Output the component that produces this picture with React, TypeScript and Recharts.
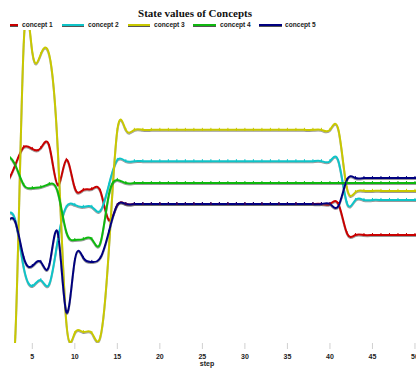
import React from 'react';
import { LineChart, Line, XAxis, YAxis } from 'recharts';

const steps = [1,2,3,4,5,6,7,8,9,10,11,12,13,14,15,16,17,18,19,20,21,22,23,24,25,26,27,28,29,30,31,32,33,34,35,36,37,38,39,40,41,42,43,44,45,46,47,48,49,50,51];

const concept1 = [0.505,0.514,0.569,0.626,0.620,0.623,0.629,0.505,0.585,0.495,0.489,0.492,0.486,0.393,0.441,
  0.444,0.444,0.444,0.444,0.444,0.444,0.444,0.444,0.444,0.444,0.444,0.444,0.444,0.444,0.444,0.444,0.444,0.444,0.444,0.444,0.444,0.444,0.444,0.444,0.444,0.444,
  0.351,0.345,0.345,0.345,0.345,0.345,0.345,0.345,0.345,0.345];

const concept2 = [0.406,0.412,0.393,0.240,0.182,0.201,0.188,0.329,0.435,0.441,0.435,0.435,0.422,0.505,0.585,
  0.581,0.581,0.581,0.581,0.581,0.581,0.581,0.581,0.581,0.581,0.581,0.581,0.581,0.581,0.581,0.581,0.581,0.581,0.581,0.581,0.581,0.581,0.581,0.581,0.581,0.581,
  0.447,0.457,0.457,0.457,0.457,0.457,0.457,0.457,0.457,0.457];

const concept3 = [0.022,0.022,0.019,0.962,0.930,0.923,0.920,0.617,0.067,0.032,0.035,0.032,0.019,0.297,0.681,
  0.681,0.681,0.681,0.681,0.681,0.681,0.681,0.681,0.681,0.681,0.681,0.681,0.681,0.681,0.681,0.681,0.681,0.681,0.681,0.681,0.681,0.681,0.681,0.681,0.681,0.681,
  0.495,0.482,0.486,0.486,0.486,0.486,0.486,0.486,0.486,0.486];

const concept4 = [0.610,0.601,0.569,0.505,0.495,0.498,0.508,0.482,0.355,0.329,0.332,0.332,0.319,0.473,0.521,
  0.511,0.511,0.511,0.511,0.511,0.511,0.511,0.511,0.511,0.511,0.511,0.511,0.511,0.511,0.511,0.511,0.511,0.511,0.511,0.511,0.511,0.511,0.511,0.511,0.511,0.511,
  0.511,0.511,0.511,0.511,0.511,0.511,0.511,0.511,0.511,0.511];

const concept5 = [0.377,0.387,0.387,0.272,0.246,0.259,0.249,0.351,0.099,0.265,0.272,0.259,0.272,0.355,0.441,
  0.444,0.444,0.444,0.444,0.444,0.444,0.444,0.444,0.444,0.444,0.444,0.444,0.444,0.444,0.444,0.444,0.444,0.444,0.444,0.444,0.444,0.444,0.444,0.444,0.444,
  0.438,0.521,0.527,0.527,0.527,0.527,0.527,0.527,0.527,0.527,0.527];

const xTicks = [5,10,15,20,25,30,35,40,45,50];
const seriesNames = ['concept 1','concept 2','concept 3','concept 4','concept 5'];
const seriesKeys = ['c1','c2','c3','c4','c5'];
const seriesColors = ['#c80000','#10c4c8','#c8c800','#10b810','#000080'];

const data = steps.map((s, i) => ({
  step: s,
  c1: concept1[i],
  c2: concept2[i],
  c3: concept3[i],
  c4: concept4[i],
  c5: concept5[i],
}));

const legendPos = [
  { ix: 10, iw: 8, tx: 22 },
  { ix: 62, iw: 22, tx: 88 },
  { ix: 128, iw: 22, tx: 154 },
  { ix: 193, iw: 23, tx: 220 },
  { ix: 259, iw: 23, tx: 285 },
];

const makeDot = (color: string) => (p: any) => {
  const { cx, cy, index } = p;
  if (cx == null || cy == null) return <g key={'d' + index} />;
  return <line key={'d' + index} x1={cx} x2={cx} y1={cy - 2} y2={cy + 1} stroke={color} strokeWidth={1} />;
};

export default function App() {
  return (
    <div style={{ position: 'absolute', left: 0, top: 0, width: 416, height: 370, overflow: 'hidden', background: '#fff' }}>
      <LineChart width={416} height={370} data={data} margin={{ top: 30, right: 0, bottom: 0, left: 10 }}>
        <defs>
          <filter id="shade" x="-10%" y="-10%" width="120%" height="130%">
            <feDropShadow dx="0" dy="1" stdDeviation="0.3" floodColor="#444" floodOpacity="0.55" />
          </filter>
        </defs>
        <XAxis
          dataKey="step"
          type="number"
          domain={[2.378, 50.12]}
          allowDataOverflow
          ticks={xTicks}
          interval={0}
          axisLine={false}
          tickLine={{ stroke: '#d0d0d0' }}
          tickSize={6}
          tickMargin={5}
          height={27}
          tick={{ fontSize: 7, fontWeight: 700, fill: '#222', fontFamily: 'Liberation Sans, Arial, sans-serif' }}
        />
        <YAxis hide width={0} domain={[0, 1]} allowDataOverflow />
        {seriesKeys.map((k, i) => (
          <Line
            key={k}
            type="natural"
            dataKey={k}
            name={seriesNames[i]}
            stroke={seriesColors[i]}
            strokeWidth={2}
            dot={makeDot(seriesColors[i])}
            activeDot={false}
            isAnimationActive={false}
            style={{ filter: 'url(#shade)' }}
          />
        ))}
      </LineChart>
      <svg width={416} height={370} style={{ position: 'absolute', left: 0, top: 0, pointerEvents: 'none' }}>
        <text x={195} y={16.5} textAnchor="middle" fontFamily="Liberation Serif, Times New Roman, serif" fontWeight={700} fontSize={11} fill="#111">
          State values of Concepts
        </text>
        {seriesNames.map((n, i) => (
          <g key={n}>
            <rect x={legendPos[i].ix} y={24} width={legendPos[i].iw} height={2} fill={seriesColors[i]} />
            <rect x={legendPos[i].ix} y={26} width={legendPos[i].iw} height={1} fill="#555" />
            <text x={legendPos[i].tx} y={27.3} fontFamily="Liberation Sans, Arial, sans-serif" fontWeight={700} fontSize={6.6} fill="#222">
              {n}
            </text>
          </g>
        ))}
        <text x={207} y={366} textAnchor="middle" fontFamily="Liberation Sans, Arial, sans-serif" fontWeight={700} fontSize={7} fill="#222">
          step
        </text>
      </svg>
    </div>
  );
}
